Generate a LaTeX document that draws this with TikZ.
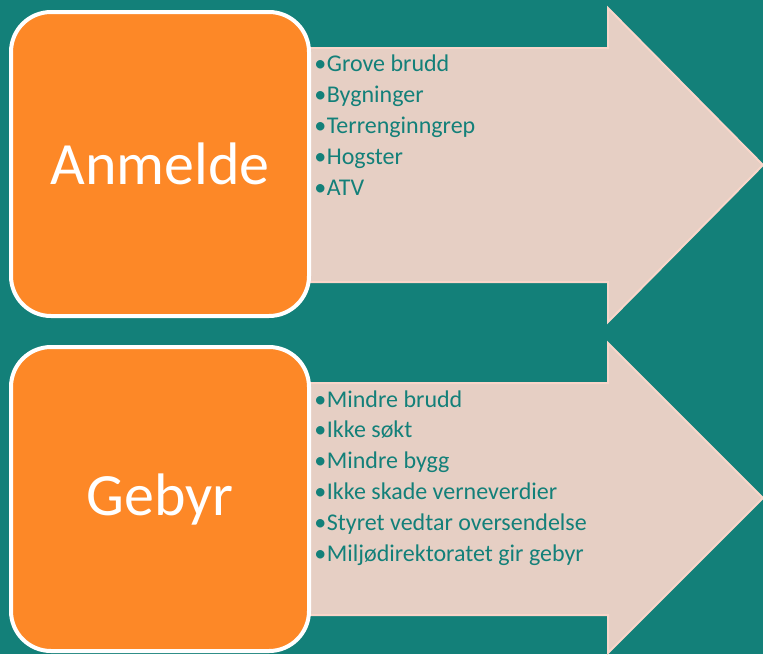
\documentclass[tikz,border=0pt]{standalone}
\usepackage{fontspec}
\setmainfont{Carlito}
\usepackage{xcolor}
\usepackage{tikz}
\usetikzlibrary{positioning}

\definecolor{sea}{HTML}{138079}
\definecolor{carrot}{HTML}{FD8827}
\definecolor{shell}{HTML}{E6CFC4}
\definecolor{shelledge}{HTML}{F9D6CA}

\tikzset{
  stage/.style={draw=white, fill=carrot, line width=3pt, rounded corners=30pt,
                minimum width=223.5pt, minimum height=228pt, inner sep=0pt,
                text=white, font=\fontsize{45}{54}\selectfont},
  shaft/.style={fill=shell, draw=shelledge, line width=1.5pt},
  item/.style={anchor=base west, inner sep=0pt, text=sea,
               font=\fontsize{18}{21}\selectfont}
}

\begin{document}
\begin{tikzpicture}[x=0.75pt, y=-0.75pt]

\fill[sea] (0,0) rectangle (763,654);
\useasboundingbox (0,0) rectangle (763,654);

%-- arrows
\draw[shaft] (300,48)--(608,48)--(608,8)--(763,165)--(608,322)--(608,282)--(300,282)--cycle;
\draw[shaft] (300,383)--(608,383)--(608,343)--(763,498)--(608,653)--(608,615)--(300,615)--cycle;

%-- boxes
\node[stage] (anmelde) at (160,164) {Anmelde};
\node[stage] (gebyr)   at (160,499) {Gebyr};

%-- lists
\foreach \txt [count=\i] in {Grove brudd, Bygninger, Terrenginngrep, Hogster, ATV}
  \node[item] (a\i) at (314,{71+31*(\i-1)}) {•\kern0.5pt\txt};

\foreach \txt [count=\i] in {Mindre brudd, Ikke søkt, Mindre bygg,
    Ikke skade verneverdier, Styret vedtar oversendelse, Miljødirektoratet gir gebyr}
  \node[item] (g\i) at (314,{407+30.8*(\i-1)}) {•\kern0.5pt\txt};

\end{tikzpicture}
\end{document}
